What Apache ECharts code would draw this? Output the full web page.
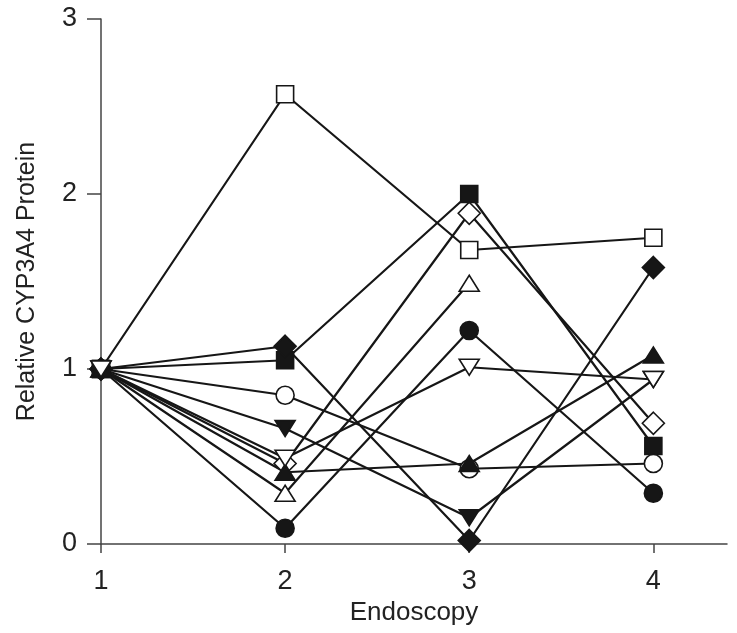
<!DOCTYPE html>
<html>
<head>
<meta charset="utf-8">
<script src="https://cdn.jsdelivr.net/npm/echarts@6/dist/echarts.min.js"></script>
<style>html,body{margin:0;padding:0;background:#fff;}#c{width:737px;height:633px;}</style>
</head>
<body>
<div id="c"></div>
<script>
const endoscopy = [1, 2, 3, 4];
const yTicks = [0, 1, 2, 3];
const openSquare      = [1, 2.57, 1.68, 1.75];
const filledSquare    = [1, 1.05, 2.00, 0.56];
const openDiamond     = [1, 0.46, 1.89, 0.69];
const filledDiamond   = [1, 1.13, 0.02, 1.58];
const openCircle      = [1, 0.85, 0.43, 0.46];
const filledCircle    = [1, 0.09, 1.22, 0.29];
const openTriUp       = [1, 0.29, 1.49, null];
const filledTriUp     = [1, 0.41, 0.46, 1.08];
const openTriDown     = [1, 0.49, 1.01, 0.94];
const filledTriDown   = [1, 0.66, 0.15, 0.94];

const ink = '#161616';
function mk(name, vals, symbol, size, filled, rot) {
  return {
    name: name, type: 'line',
    data: endoscopy.map((x, i) => [x, vals[i]]).filter(d => d[1] !== null),
    symbol: symbol, symbolSize: size, symbolRotate: rot || 0,
    showAllSymbol: true,
    lineStyle: { color: ink, width: 2.2 },
    itemStyle: { color: filled ? ink : '#fff', borderColor: ink, borderWidth: 1.6 },
    emphasis: { disabled: true },
    animation: false
  };
}
const chart = echarts.init(document.getElementById('c'));
chart.setOption({
  backgroundColor: '#fff',
  grid: { left: 101, top: 19, right: 10, bottom: 89, containLabel: false },
  xAxis: {
    type: 'value', min: 1, max: 4.4, interval: 1,
    name: 'Endoscopy', nameLocation: 'middle', nameGap: 52,
    nameTextStyle: { fontFamily: 'Liberation Sans', fontSize: 26, color: '#222' },
    axisLine: { lineStyle: { color: '#444', width: 1.5 } },
    axisTick: { length: 9, lineStyle: { color: '#444', width: 1.5 } },
    axisLabel: { fontFamily: 'Liberation Sans', fontSize: 27, color: '#222', margin: 24,
      formatter: v => (endoscopy.indexOf(v) >= 0 ? String(v) : '') , showMaxLabel: false },
    splitLine: { show: false }
  },
  yAxis: {
    type: 'value', min: 0, max: 3, interval: 1,
    name: 'Relative CYP3A4 Protein', nameLocation: 'middle', nameGap: 61,
    nameTextStyle: { fontFamily: 'Liberation Sans', fontSize: 25, color: '#222' },
    axisLine: { show: true, lineStyle: { color: '#444', width: 1.5 } },
    axisTick: { show: true, length: 14, lineStyle: { color: '#444', width: 1.5 } },
    axisLabel: { fontFamily: 'Liberation Sans', fontSize: 27, color: '#222', margin: 24,
      formatter: v => (yTicks.indexOf(v) >= 0 ? String(v) : '') },
    splitLine: { show: false }
  },
  series: [
    mk('openDiamond', openDiamond, 'diamond', [22, 22], false),
    mk('filledSquare', filledSquare, 'rect', 17, true),
    mk('filledDiamond', filledDiamond, 'diamond', [22, 22], true),
    mk('openSquare', openSquare, 'rect', 17, false),
    mk('openCircle', openCircle, 'circle', 18, false),
    mk('filledCircle', filledCircle, 'circle', 18, true),
    mk('openTriUp', openTriUp, 'triangle', [20, 16], false),
    mk('filledTriUp', filledTriUp, 'triangle', [20, 16], true),
    mk('filledTriDown', filledTriDown, 'triangle', [20, 16], true, 180),
    mk('openTriDown', openTriDown, 'triangle', [20, 16], false, 180)
  ]
});
</script>
</body>
</html>
